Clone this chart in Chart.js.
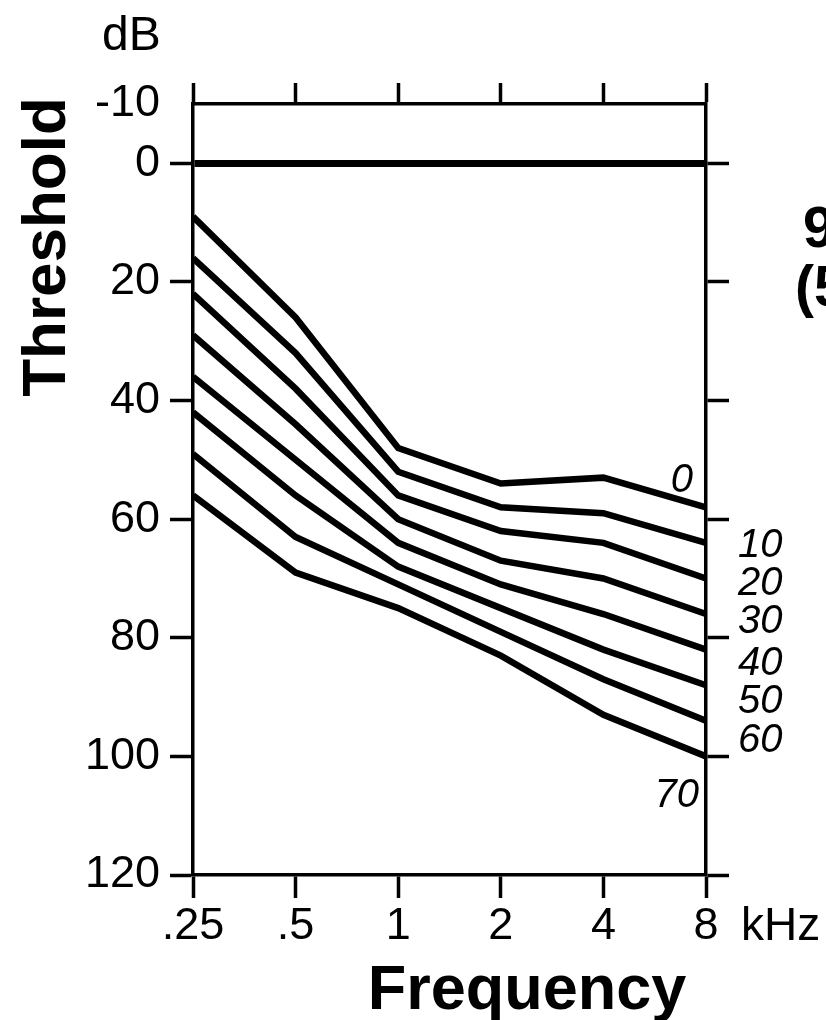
<!DOCTYPE html>
<html>
<head>
<meta charset="utf-8">
<script src="https://cdn.jsdelivr.net/npm/chart.js@4.4.0/dist/chart.umd.min.js"></script>
<style>
html, body { margin: 0; padding: 0; background: #fff; }
</style>
</head>
<body>
<canvas id="audiogram" width="826" height="1020"></canvas>
<script>
// frequencies (kHz) along the bottom
var frequencies = ['.25', '.5', '1', '2', '4', '8'];
// threshold tick labels (dB)
var thresholdTicks = [-10, 0, 20, 40, 60, 80, 100, 120];
// names written next to the right-hand end of each curve
var curveNames = ['0', '10', '20', '30', '40', '50', '60', '70'];

// thresholds in dB, one array per curve
var curve0  = [9, 26, 48, 54, 53, 58];
var curve10 = [16, 32, 52, 58, 59, 64];
var curve20 = [22, 38, 56, 62, 64, 70];
var curve30 = [29, 44, 60, 67, 70, 76];
var curve40 = [36, 50, 64, 71, 76, 82];
var curve50 = [42, 56, 68, 75, 82, 88];
var curve60 = [49, 63, 71, 79, 87, 94];
var curve70 = [56, 69, 75, 83, 93, 100];

var curves = [curve0, curve10, curve20, curve30, curve40, curve50, curve60, curve70];

var FONT = "'Liberation Sans', Arial, Helvetica, sans-serif";
Chart.defaults.font.family = FONT;
Chart.defaults.color = '#000';

var datasets = curves.map(function (vals, i) {
    return {
        label: curveNames[i],
        data: vals,
        borderColor: '#000',
        backgroundColor: '#000',
        borderWidth: 6.5,
        borderJoinStyle: 'miter',
        pointRadius: 0,
        tension: 0,
        fill: false,
        clip: false
    };
});

// no tick mark at -10 on either side
var tickCol = function (c) {
    return c.tick && c.tick.value === -10 ? 'rgba(0,0,0,0)' : '#000';
};

var textPlugin = {
    id: 'audiogramText',
    afterDraw: function (chart) {
        var ctx = chart.ctx;
        ctx.save();
        ctx.fillStyle = '#000';
        ctx.textBaseline = 'alphabetic';

        // units
        ctx.textAlign = 'left';
        ctx.font = '48px ' + FONT;
        ctx.fillText('dB', 102, 50);
        ctx.font = '46px ' + FONT;
        ctx.fillText('kHz', 741, 940);

        // axis titles
        ctx.font = 'bold 63px ' + FONT;
        ctx.textAlign = 'center';
        ctx.fillText('Frequency', 527, 1009);
        ctx.save();
        ctx.translate(65, 247);
        ctx.rotate(-Math.PI / 2);
        ctx.font = 'bold 62px ' + FONT;
        ctx.fillText('Threshold', 0, 0);
        ctx.restore();

        // curve names
        ctx.font = 'italic 40px ' + FONT;
        ctx.textAlign = 'right';
        ctx.fillText(curveNames[0], 693, 492);
        ctx.fillText(curveNames[7], 699, 807);
        ctx.textAlign = 'left';
        var baselines = [557, 595, 633, 675, 713, 752];
        for (var i = 1; i <= 6; i++) {
            ctx.fillText(curveNames[i], 738, baselines[i - 1]);
        }

        // text cut off at the right edge
        ctx.font = 'bold 57px ' + FONT;
        ctx.fillText('9', 803, 247);
        ctx.fillText('(5', 795, 306);
        ctx.restore();
    }
};

var ctx = document.getElementById('audiogram').getContext('2d');
var audiogram = new Chart(ctx, {
    type: 'line',
    data: {
        labels: frequencies,
        datasets: datasets
    },
    options: {
        responsive: false,
        animation: false,
        layout: { padding: 0 },
        plugins: {
            legend: { display: false },
            tooltip: { enabled: false }
        },
        scales: {
            x: {
                type: 'category',
                position: 'bottom',
                offset: false,
                grid: {
                    drawOnChartArea: false,
                    tickColor: '#000',
                    tickWidth: 3.5,
                    tickLength: 23
                },
                border: { display: true, color: '#000', width: 3.5 },
                ticks: {
                    autoSkip: false,
                    maxRotation: 0,
                    padding: 2,
                    font: { size: 45 }
                },
                afterFit: function (s) { s.height = 145; }
            },
            x2: {
                type: 'category',
                position: 'top',
                offset: false,
                grid: {
                    drawOnChartArea: false,
                    tickColor: '#000',
                    tickWidth: 3.5,
                    tickLength: 21
                },
                border: { display: true, color: '#000', width: 3.5 },
                ticks: { display: false },
                afterFit: function (s) { s.height = 104; }
            },
            y: {
                type: 'linear',
                position: 'left',
                reverse: true,
                min: -10,
                max: 120,
                afterBuildTicks: function (s) {
                    s.ticks = thresholdTicks.map(function (v) { return { value: v }; });
                },
                grid: {
                    drawOnChartArea: true,
                    color: function (c) { return c.tick && c.tick.value === 0 ? '#000' : 'rgba(0,0,0,0)'; },
                    lineWidth: function (c) { return c.tick && c.tick.value === 0 ? 7 : 1; },
                    tickColor: tickCol,
                    tickWidth: 3.5,
                    tickLength: 23
                },
                border: { display: true, color: '#000', width: 3.5 },
                ticks: {
                    autoSkip: false,
                    padding: 10,
                    font: { size: 45 }
                },
                afterFit: function (s) { s.width = 193; }
            },
            y2: {
                type: 'linear',
                position: 'right',
                reverse: true,
                min: -10,
                max: 120,
                afterBuildTicks: function (s) {
                    s.ticks = thresholdTicks.map(function (v) { return { value: v }; });
                },
                grid: {
                    drawOnChartArea: false,
                    tickColor: tickCol,
                    tickWidth: 3.5,
                    tickLength: 23
                },
                border: { display: true, color: '#000', width: 3.5 },
                ticks: { display: false },
                afterFit: function (s) { s.width = 120; }
            }
        }
    },
    plugins: [textPlugin]
});
</script>
</body>
</html>
